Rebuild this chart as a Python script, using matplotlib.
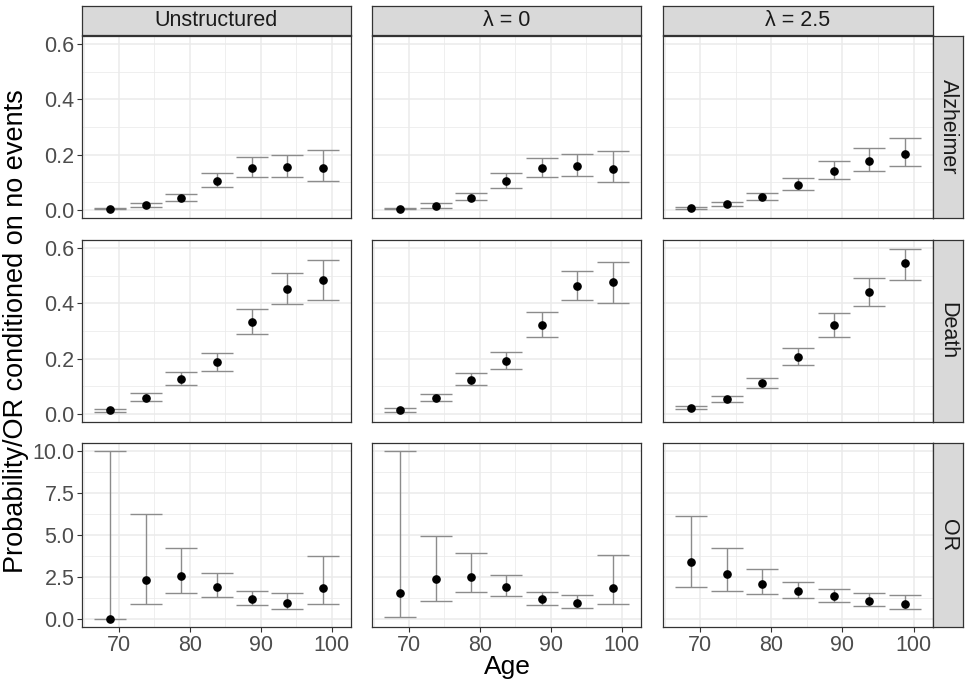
import numpy as np
import matplotlib
matplotlib.use('Agg')
import matplotlib.pyplot as plt

plt.rcParams['font.family'] = ['Liberation Sans', 'DejaVu Sans']

# data
ages = [68.75, 73.75, 78.75, 83.75, 88.75, 93.75, 98.75]
col_labels = ['Unstructured', '\u03bb = 0', '\u03bb = 2.5']
row_labels = ['Alzheimer', 'Death', 'OR']

alz_unstr = [0.004, 0.017, 0.042, 0.104, 0.151, 0.154, 0.153]
alz_unstr_lo = [0.001, 0.010, 0.031, 0.081, 0.119, 0.119, 0.105]
alz_unstr_hi = [0.007, 0.026, 0.057, 0.134, 0.190, 0.199, 0.218]

alz_l0 = [0.004, 0.014, 0.044, 0.103, 0.150, 0.158, 0.149]
alz_l0_lo = [0.001, 0.008, 0.034, 0.080, 0.117, 0.122, 0.101]
alz_l0_hi = [0.007, 0.023, 0.061, 0.132, 0.188, 0.201, 0.212]

alz_l25 = [0.006, 0.019, 0.047, 0.091, 0.140, 0.178, 0.202]
alz_l25_lo = [0.002, 0.012, 0.035, 0.071, 0.110, 0.141, 0.158]
alz_l25_hi = [0.009, 0.027, 0.061, 0.116, 0.176, 0.224, 0.259]

death_unstr = [0.012, 0.058, 0.125, 0.186, 0.331, 0.453, 0.484]
death_unstr_lo = [0.007, 0.046, 0.104, 0.156, 0.288, 0.398, 0.412]
death_unstr_hi = [0.018, 0.075, 0.151, 0.220, 0.380, 0.510, 0.559]

death_l0 = [0.012, 0.058, 0.123, 0.192, 0.322, 0.463, 0.476]
death_l0_lo = [0.006, 0.047, 0.103, 0.162, 0.279, 0.411, 0.402]
death_l0_hi = [0.019, 0.073, 0.148, 0.225, 0.368, 0.518, 0.549]

death_l25 = [0.022, 0.052, 0.110, 0.205, 0.321, 0.440, 0.547]
death_l25_lo = [0.017, 0.041, 0.092, 0.175, 0.280, 0.389, 0.486]
death_l25_hi = [0.028, 0.063, 0.131, 0.239, 0.366, 0.491, 0.599]

or_unstr = [0.0, 2.33, 2.55, 1.87, 1.15, 0.96, 1.81]
or_unstr_lo = [0.0, 0.86, 1.55, 1.29, 0.80, 0.60, 0.86]
or_unstr_hi = [10.0, 6.27, 4.22, 2.71, 1.63, 1.51, 3.72]

or_l0 = [1.51, 2.35, 2.47, 1.87, 1.15, 0.94, 1.83]
or_l0_lo = [0.08, 1.08, 1.57, 1.35, 0.84, 0.64, 0.88]
or_l0_hi = [10.0, 4.96, 3.90, 2.61, 1.57, 1.41, 3.80]

or_l25 = [3.39, 2.65, 2.09, 1.65, 1.33, 1.08, 0.90]
or_l25_lo = [1.89, 1.67, 1.45, 1.23, 1.00, 0.78, 0.60]
or_l25_hi = [6.14, 4.24, 2.99, 2.21, 1.77, 1.53, 1.43]

grid = [
    [(alz_unstr, alz_unstr_lo, alz_unstr_hi), (alz_l0, alz_l0_lo, alz_l0_hi), (alz_l25, alz_l25_lo, alz_l25_hi)],
    [(death_unstr, death_unstr_lo, death_unstr_hi), (death_l0, death_l0_lo, death_l0_hi), (death_l25, death_l25_lo, death_l25_hi)],
    [(or_unstr, or_unstr_lo, or_unstr_hi), (or_l0, or_l0_lo, or_l0_hi), (or_l25, or_l25_lo, or_l25_hi)],
]

prob_ticks = [0.0, 0.2, 0.4, 0.6]
prob_labels = ['0.0', '0.2', '0.4', '0.6']
or_ticks = [0.0, 2.5, 5.0, 7.5, 10.0]
or_labels = ['0.0', '2.5', '5.0', '7.5', '10.0']
x_ticks = [70, 80, 90, 100]

W, H = 969, 686
fig = plt.figure(figsize=(W / 100, H / 100), dpi=100)

col_x = [(82, 351), (372, 641), (663, 933)]
row_y = [(36, 218), (240, 422), (443, 627)]
strip_top = (6, 35)
strip_right = (933, 963)

border = '#333333'
gridc = '#EBEBEB'
tickc = '#4D4D4D'
strip_fill = '#D9D9D9'


def px_axes(x0, x1, y0, y1):
    return fig.add_axes([x0 / W, 1 - y1 / H, (x1 - x0) / W, (y1 - y0) / H])


for r in range(3):
    for c in range(3):
        x0, x1 = col_x[c]
        y0, y1 = row_y[r]
        ax = px_axes(x0, x1, y0, y1)
        est, lo, hi = grid[r][c]
        est = np.array(est); lo = np.array(lo); hi = np.array(hi)
        ax.errorbar(ages, est, yerr=[est - lo, hi - est], fmt='none',
                    ecolor='#8C8C8C', elinewidth=1.0, capsize=11.5,
                    capthick=1.0, zorder=2)
        ax.plot(ages, est, 'o', color='black', markersize=5.2, zorder=3)
        ax.set_xlim(64.775, 102.725)
        ax.set_xticks(x_ticks)
        ax.set_xticks([65, 75, 85, 95], minor=True)
        if r < 2:
            ax.set_ylim(-0.03, 0.63)
            ax.set_yticks(prob_ticks)
            ax.set_yticks([0.1, 0.3, 0.5], minor=True)
            ylabs = prob_labels
        else:
            ax.set_ylim(-0.5, 10.5)
            ax.set_yticks(or_ticks)
            ax.set_yticks([1.25, 3.75, 6.25, 8.75], minor=True)
            ylabs = or_labels
        ax.grid(True, which='major', color=gridc, linewidth=1.1, zorder=0)
        ax.grid(True, which='minor', color=gridc, linewidth=0.55, zorder=0)
        ax.set_axisbelow(True)
        for s in ax.spines.values():
            s.set_color(border)
            s.set_linewidth(0.9)
        ax.tick_params(which='minor', length=0)
        ax.tick_params(which='major', color=border, length=3.5, width=0.8,
                       labelcolor=tickc, labelsize=15.5, pad=2)
        if c == 0:
            ax.set_yticklabels(ylabs)
        else:
            ax.tick_params(axis='y', which='major', length=0, labelleft=False)
        if r == 2:
            ax.set_xticklabels([str(t) for t in x_ticks])
        else:
            ax.tick_params(axis='x', which='major', length=0, labelbottom=False)

# top strips
for c in range(3):
    x0, x1 = col_x[c]
    sax = px_axes(x0, x1, strip_top[0], strip_top[1])
    sax.set_facecolor(strip_fill)
    sax.set_xticks([]); sax.set_yticks([])
    for s in sax.spines.values():
        s.set_color(border)
        s.set_linewidth(0.9)
    sax.text(0.5, 0.5, col_labels[c], ha='center', va='center',
             fontsize=15.5, color='#1A1A1A', transform=sax.transAxes)

# right strips
for r in range(3):
    y0, y1 = row_y[r]
    sax = px_axes(strip_right[0], strip_right[1], y0, y1)
    sax.set_facecolor(strip_fill)
    sax.set_xticks([]); sax.set_yticks([])
    for s in sax.spines.values():
        s.set_color(border)
        s.set_linewidth(0.9)
    sax.text(0.5, 0.5, row_labels[r], ha='center', va='center', rotation=-90,
             fontsize=15.5, color='#1A1A1A', transform=sax.transAxes)

fig.text((82 + 933) / 2 / W, 1 - 667 / H, 'Age', ha='center', va='center',
         fontsize=19, color='black')
fig.text(16 / W, 1 - ((36 + 627) / 2) / H, 'Probability/OR conditioned on no events',
         ha='center', va='center', rotation=90, fontsize=19.5, color='black')

fig.savefig('out.png', dpi=100)
